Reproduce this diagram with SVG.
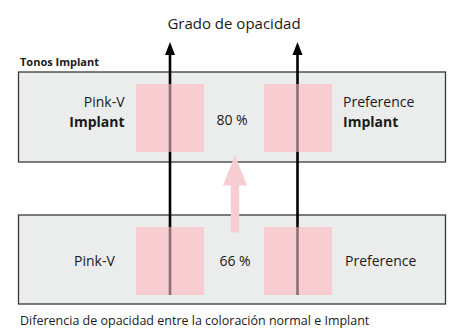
<svg xmlns="http://www.w3.org/2000/svg" width="451" height="329" viewBox="0 0 451 329">
<style>
.box{fill:#ebecec;stroke:#3a3a3a;stroke-width:1.3}
.sq{fill:#f8cdd1}
.ln{stroke:#000;stroke-width:2.6;fill:none}
.lnf{stroke:#000;stroke-width:2.6;stroke-opacity:0.45;fill:none}
text{font-family:"Open Sans","DejaVu Sans",sans-serif;fill:#1a1a1a}
.t{font-size:14px}
.b{font-size:14px;font-weight:bold}
</style>
<rect width="451" height="329" fill="#fff"/>
<text x="234" y="29" font-size="15" text-anchor="middle">Grado de opacidad</text>
<text x="20" y="66" font-size="11" font-weight="bold">Tonos Implant</text>
<g id="box-top"><rect class="box" x="18.5" y="72" width="427" height="90"/></g>
<g id="box-bottom"><rect class="box" x="18.5" y="215" width="427" height="89"/></g>
<g id="connectors">
<line class="ln" x1="170" y1="295" x2="170" y2="54"/>
<polygon points="170,42 165,55 175,55" fill="#000"/>
<line class="ln" x1="297.5" y1="295" x2="297.5" y2="54"/>
<polygon points="297.5,42 292.5,55 302.5,55" fill="#000"/>
</g>
<g id="squares-top">
<rect class="sq" x="136" y="84" width="68" height="68"/>
<rect class="sq" x="264" y="84" width="68" height="68"/>
</g>
<g id="squares-bottom">
<rect class="sq" x="136" y="227" width="68" height="68"/>
<rect class="sq" x="264" y="227" width="68" height="68"/>
</g>
<g id="line-overlays">
<line class="lnf" x1="170" y1="84" x2="170" y2="152"/>
<line class="lnf" x1="297.5" y1="84" x2="297.5" y2="152"/>
<line class="lnf" x1="170" y1="227" x2="170" y2="295"/>
<line class="lnf" x1="297.5" y1="227" x2="297.5" y2="295"/>
</g>
<g id="pink-arrow"><polygon points="235,155 247,185.5 239.2,185.5 239.2,232.5 230.8,232.5 230.8,185.5 223,185.5" fill="#f8cdd1"/></g>
<g id="top-labels">
<text class="t" x="124.5" y="107" text-anchor="end">Pink-V</text>
<text class="b" x="124.5" y="126.5" text-anchor="end">Implant</text>
<text class="t" x="232" y="125" text-anchor="middle">80 %</text>
<text class="t" x="343" y="107">Preference</text>
<text class="b" x="343" y="126.5">Implant</text>
</g>
<g id="bottom-labels">
<text class="t" x="74" y="265.5">Pink-V</text>
<text class="t" x="235" y="265.5" text-anchor="middle">66 %</text>
<text class="t" x="345" y="265.5">Preference</text>
</g>
<text x="20" y="325" font-size="12.5">Diferencia de opacidad entre la coloración normal e Implant</text>
</svg>
